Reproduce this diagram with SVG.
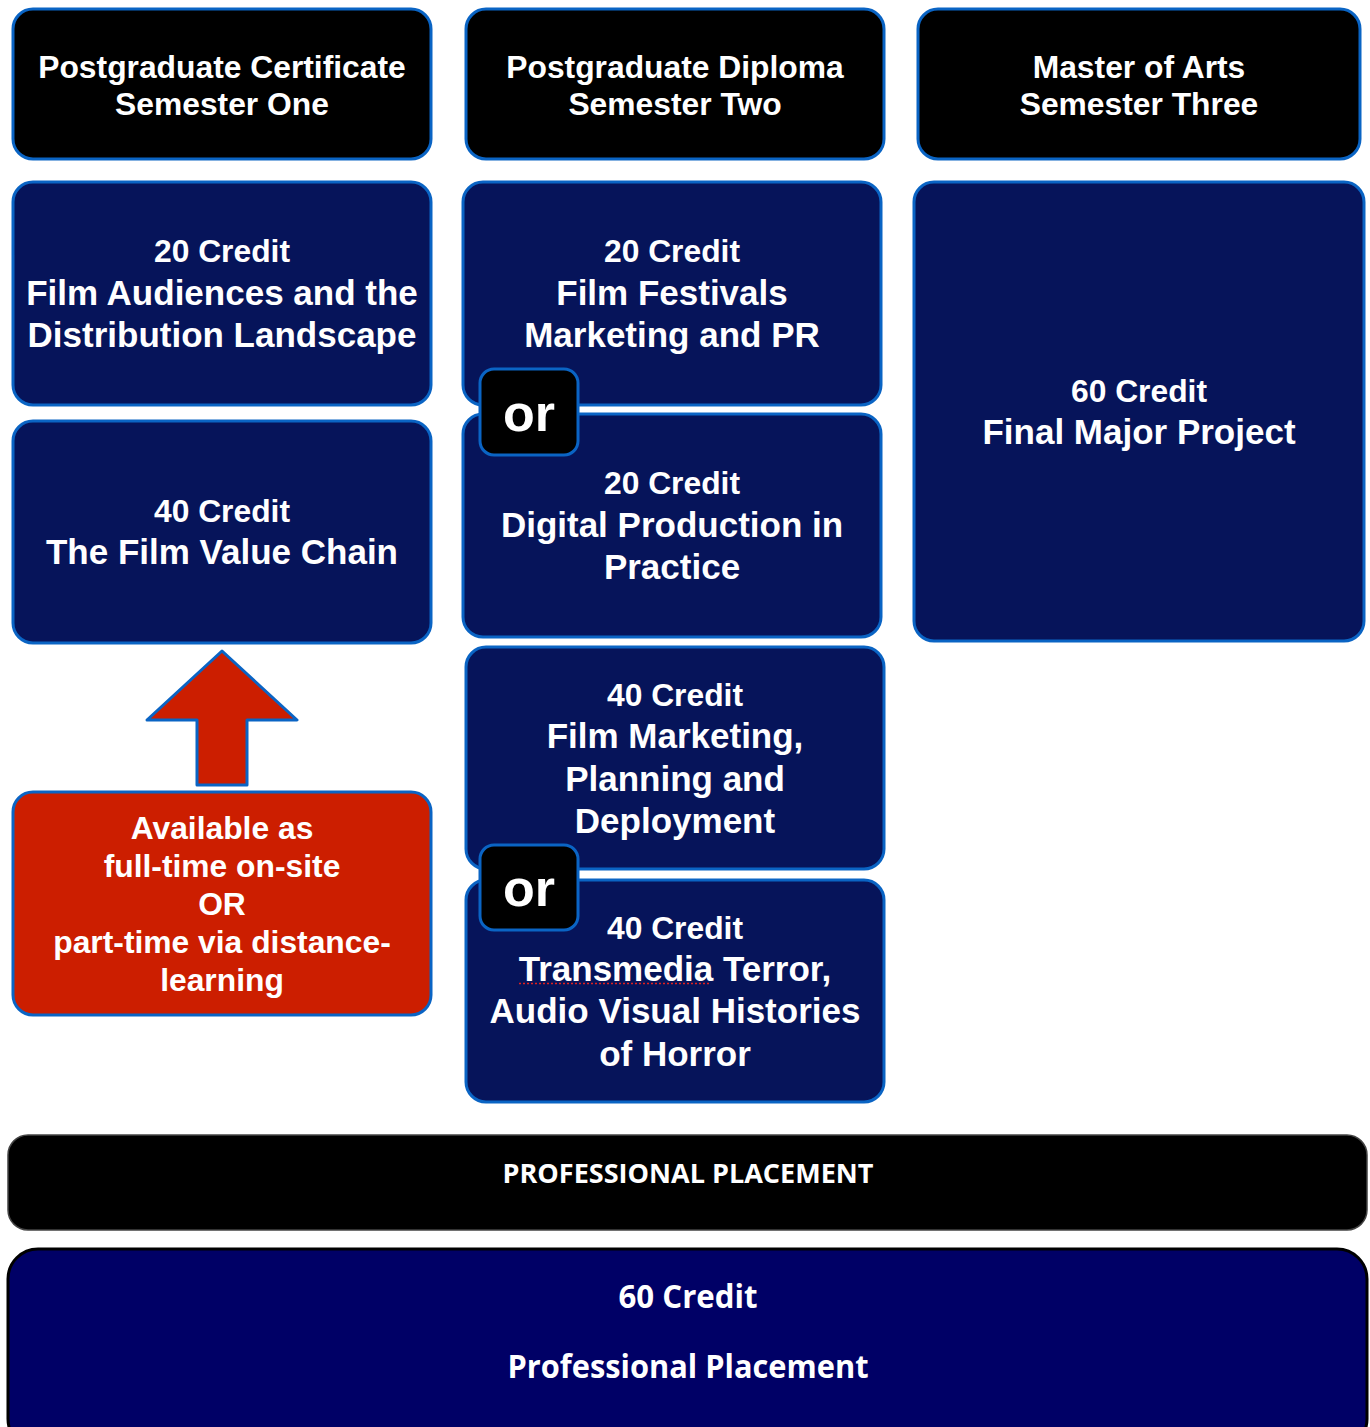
<svg xmlns="http://www.w3.org/2000/svg" width="1370" height="1427" viewBox="0 0 1370 1427">
<style>
.hdr{fill:#000;stroke:#0A64C4;stroke-width:3}
.mod{fill:#06145A;stroke:#0A64C4;stroke-width:3}
.orb{fill:#000;stroke:#0A64C4;stroke-width:3}
.red{fill:#CC1E00;stroke:#0A64C4;stroke-width:3}
text{font-family:"Liberation Sans",Arial,sans-serif;font-weight:bold;fill:#fff;text-anchor:middle}
.t31{font-size:31.8px}
.t34{font-size:35px}
.or{font-size:52px}
.cal{font-family:"Open Sans","Lato",sans-serif}
</style>
<rect width="1370" height="1427" fill="#fff"/>
<g id="hdr1"><rect class="hdr" x="13" y="9" width="418" height="150" rx="20"/>
<text class="t31" x="222" y="78">Postgraduate Certificate</text>
<text class="t31" x="222" y="115">Semester One</text></g>
<g id="hdr2"><rect class="hdr" x="466" y="9" width="418" height="150" rx="20"/>
<text class="t31" x="675" y="78">Postgraduate Diploma</text>
<text class="t31" x="675" y="115">Semester Two</text></g>
<g id="hdr3"><rect class="hdr" x="918" y="9" width="442" height="150" rx="20"/>
<text class="t31" x="1139" y="78">Master of Arts</text>
<text class="t31" x="1139" y="115">Semester Three</text></g>

<g id="m1a"><rect class="mod" x="13" y="182" width="418" height="223" rx="20"/>
<text class="t31" x="222" y="262">20 Credit</text>
<text class="t34" x="222" y="305">Film Audiences and the</text>
<text class="t34" x="222" y="347">Distribution Landscape</text></g>
<g id="m1b"><rect class="mod" x="13" y="421" width="418" height="222" rx="20"/>
<text class="t31" x="222" y="522">40 Credit</text>
<text class="t34" x="222" y="564">The Film Value Chain</text></g>

<g id="m2a"><rect class="mod" x="463" y="182" width="418" height="223" rx="20"/>
<text class="t31" x="672" y="262">20 Credit</text>
<text class="t34" x="672" y="305">Film Festivals</text>
<text class="t34" x="672" y="347">Marketing and PR</text></g>
<g id="m2b"><rect class="mod" x="463" y="414" width="418" height="223" rx="20"/>
<text class="t31" x="672" y="494">20 Credit</text>
<text class="t34" x="672" y="537">Digital Production in</text>
<text class="t34" x="672" y="579">Practice</text></g>
<g id="or1"><rect class="orb" x="480" y="369" width="98" height="86" rx="14"/>
<text class="or" x="529" y="431">or</text></g>

<g id="m2c"><rect class="mod" x="466" y="647" width="418" height="222" rx="20"/>
<text class="t31" x="675" y="706">40 Credit</text>
<text class="t34" x="675" y="748">Film Marketing,</text>
<text class="t34" x="675" y="791">Planning and</text>
<text class="t34" x="675" y="833">Deployment</text></g>
<g id="m2d"><rect class="mod" x="466" y="880" width="418" height="222" rx="20"/>
<text class="t31" x="675" y="939">40 Credit</text>
<text class="t34" x="675" y="981">Transmedia Terror,</text>
<line x1="519" y1="983.5" x2="711" y2="983.5" stroke="#E02020" stroke-width="1.5" stroke-dasharray="2 2"/>
<text class="t34" x="675" y="1023">Audio Visual Histories</text>
<text class="t34" x="675" y="1066">of Horror</text></g>
<g id="or2"><rect class="orb" x="480" y="845" width="98" height="85" rx="14"/>
<text class="or" x="529" y="906">or</text></g>

<g id="m3"><rect class="mod" x="914" y="182" width="450" height="459" rx="20"/>
<text class="t31" x="1139" y="402">60 Credit</text>
<text class="t34" x="1139" y="444">Final Major Project</text></g>

<g id="connectors">
<polygon id="arrow" points="222,651 297,720 247,720 247,785 197,785 197,720 147,720" fill="#CC1E00" stroke="#0A64C4" stroke-width="3" stroke-linejoin="round"/>
</g>

<g id="avail"><rect class="red" x="13" y="792" width="418" height="223" rx="20"/>
<text class="t31" x="222" y="839">Available as</text>
<text class="t31" x="222" y="877">full-time on-site</text>
<text class="t31" x="222" y="915">OR</text>
<text class="t31" x="222" y="953">part-time via distance-</text>
<text class="t31" x="222" y="991">learning</text></g>

<g id="placement"><rect x="8" y="1135" width="1359" height="95" rx="20" fill="#000" stroke="#444" stroke-width="1.5"/>
<text class="cal" x="688" y="1183" font-size="27" textLength="371" lengthAdjust="spacingAndGlyphs">PROFESSIONAL PLACEMENT</text></g>
<g id="credit60"><rect x="8" y="1249" width="1359" height="200" rx="30" fill="#000066" stroke="#000" stroke-width="3"/>
<text class="cal" x="688" y="1308" font-size="33" textLength="139" lengthAdjust="spacingAndGlyphs">60 Credit</text>
<text class="cal" x="688" y="1378" font-size="33" textLength="361" lengthAdjust="spacingAndGlyphs">Professional Placement</text></g>
</svg>
